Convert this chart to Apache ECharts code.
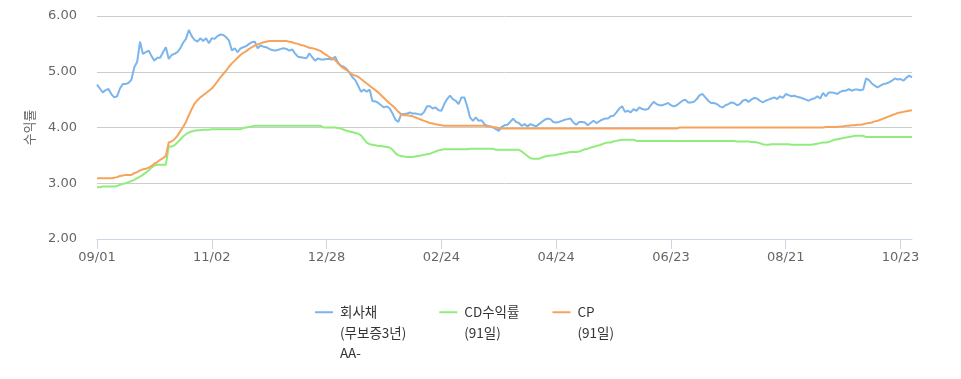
<!DOCTYPE html>
<html><head><meta charset="utf-8">
<script src="https://cdn.jsdelivr.net/npm/echarts@6/dist/echarts.min.js"></script>
<style>html,body{margin:0;padding:0;background:#fff}#c{width:961px;height:379px}</style>
</head><body><div id="c"></div>
<script>
// Trading days (year-month, day list)
const tradingMonths = [
 ['2022-09',[1,2,5,6,7,8,13,14,15,16,19,20,21,22,23,26,27,28,29,30]],
 ['2022-10',[4,5,6,7,11,12,13,14,17,18,19,20,21,24,25,26,27,28,31]],
 ['2022-11',[1,2,3,4,7,8,9,10,11,14,15,16,17,18,21,22,23,24,25,28,29,30]],
 ['2022-12',[1,2,5,6,7,8,9,12,13,14,15,16,19,20,21,22,23,26,27,28,29,30]],
 ['2023-01',[2,3,4,5,6,9,10,11,12,13,16,17,18,19,20,25,26,27,30,31]],
 ['2023-02',[1,2,3,6,7,8,9,10,13,14,15,16,17,20,21,22,23,24,27,28]],
 ['2023-03',[2,3,6,7,8,9,10,13,14,15,16,17,20,21,22,23,24,27,28,29,30,31]],
 ['2023-04',[3,4,5,6,7,10,11,12,13,14,17,18,19,20,21,24,25,26,27,28]],
 ['2023-05',[2,3,4,8,9,10,11,12,15,16,17,18,19,22,23,24,25,26,30,31]],
 ['2023-06',[1,2,5,7,8,9,12,13,14,15,16,19,20,21,22,23,26,27,28,29,30]],
 ['2023-07',[3,4,5,6,7,10,11,12,13,14,17,18,19,20,21,24,25,26,27,28,31]],
 ['2023-08',[1,2,3,4,7,8,9,10,11,14,16,17,18,21,22,23,24,25,28,29,30,31]],
 ['2023-09',[1,4,5,6,7,8,11,12,13,14,15,18,19,20,21,22,25,26,27]],
 ['2023-10',[4,5,6,10,11,12,13,16,17,18,19,20,23,24,25,26,27]]
];
const categories = [];
tradingMonths.forEach(([ym, days]) => days.forEach(d => categories.push(ym + '-' + String(d).padStart(2, '0'))));

const seriesNames = ['회사채\n(무보증3년)\nAA-', 'CD수익률\n(91일)', 'CP\n(91일)'];
const seriesColors = ['#7cb5ec', '#90ed7d', '#f7a35c'];

const corpBond = [
 4.77,4.70,4.63,4.67,4.69,4.60,4.54,4.56,4.70,4.78,4.78,4.80,4.86,5.08,5.18,5.54,5.32,5.35,5.38,5.28,5.20,5.25,5.25,5.35,5.44,5.23,5.30,5.32,5.35,5.42,5.52,5.59,5.75,5.64,5.57,5.54,5.60,
 5.55,5.60,5.51,5.60,5.59,5.64,5.67,5.66,5.62,5.56,5.38,5.42,5.35,5.42,5.44,5.46,5.50,5.53,5.54,5.42,5.47,5.45,5.44,5.41,5.39,5.38,5.39,5.41,5.42,5.41,5.38,5.40,5.33,5.27,5.26,
 5.25,5.24,5.33,5.26,5.20,5.24,5.22,5.22,5.23,5.23,5.22,5.27,5.16,5.11,5.09,5.05,4.98,4.90,4.85,4.75,4.64,4.68,4.64,4.68,4.47,4.47,4.44,4.40,4.36,4.38,4.34,4.25,4.14,4.10,4.24,4.24,
 4.25,4.27,4.25,4.25,4.24,4.23,4.28,4.38,4.38,4.34,4.36,4.31,4.30,4.42,4.51,4.57,4.51,4.48,4.42,4.54,4.54,4.38,4.18,4.12,4.18,4.12,4.13,4.06,4.03,4.02,4.00,3.97,3.94,4.01,4.04,
 4.05,4.10,4.16,4.10,4.08,4.03,4.06,4.02,4.06,4.04,4.02,4.06,4.10,4.14,4.16,4.15,4.10,4.09,4.10,4.12,4.14,4.15,4.16,4.09,4.05,4.10,4.10,4.09,4.04,4.08,4.12,4.08,4.11,4.14,4.16,4.16,
 4.20,4.21,4.27,4.34,4.38,4.28,4.30,4.27,4.33,4.30,4.36,4.33,4.32,4.33,4.40,4.46,4.42,4.40,4.40,4.42,4.44,4.40,4.38,4.40,4.44,4.48,4.50,4.45,4.45,4.46,4.51,4.58,4.60,4.54,4.48,
 4.44,4.44,4.42,4.38,4.36,4.40,4.42,4.45,4.44,4.40,4.42,4.48,4.50,4.46,4.50,4.53,4.52,4.48,4.45,4.48,4.50,4.52,4.54,4.51,4.56,4.53,4.60,4.58,4.56,4.57,4.55,4.54,4.52,4.50,4.48,4.51,
 4.52,4.56,4.52,4.62,4.56,4.63,4.63,4.62,4.60,4.64,4.66,4.66,4.69,4.66,4.68,4.68,4.67,4.68,4.88,4.85,4.79,4.75,4.72,4.75,4.78,4.79,4.81,4.84,4.88,4.86,4.87,4.84,4.89,4.93,4.90
];

const cdRate = [
 2.93,2.93,2.94,2.94,2.94,2.94,2.94,2.95,2.97,2.99,3.00,3.02,3.04,3.06,3.09,3.12,3.15,3.19,3.23,3.28,3.32,3.33,3.33,3.33,3.33,3.66,3.66,3.68,3.73,3.78,3.84,3.88,3.91,3.93,3.94,3.95,3.95,
 3.96,3.96,3.96,3.97,3.97,3.97,3.97,3.97,3.97,3.97,3.97,3.97,3.97,3.97,3.99,4.00,4.01,4.02,4.03,4.03,4.03,4.03,4.03,4.03,4.03,4.03,4.03,4.03,4.03,4.03,4.03,4.03,4.03,4.03,4.03,
 4.03,4.03,4.03,4.03,4.03,4.03,4.03,4.00,4.00,4.00,4.00,4.00,3.99,3.98,3.96,3.94,3.93,3.92,3.90,3.89,3.86,3.79,3.73,3.70,3.69,3.68,3.67,3.67,3.66,3.65,3.64,3.60,3.54,3.50,3.49,3.48,
 3.47,3.47,3.47,3.48,3.49,3.50,3.51,3.52,3.53,3.55,3.57,3.59,3.60,3.61,3.61,3.61,3.61,3.61,3.61,3.61,3.61,3.61,3.62,3.62,3.62,3.62,3.62,3.62,3.62,3.62,3.62,3.60,3.60,3.60,3.60,
 3.60,3.60,3.60,3.60,3.60,3.57,3.53,3.49,3.45,3.44,3.44,3.44,3.46,3.48,3.49,3.50,3.50,3.51,3.52,3.53,3.54,3.55,3.56,3.56,3.56,3.57,3.59,3.61,3.62,3.64,3.65,3.67,3.68,3.70,3.72,3.73,
 3.73,3.75,3.76,3.77,3.78,3.78,3.78,3.78,3.78,3.76,3.76,3.76,3.76,3.76,3.76,3.76,3.76,3.76,3.76,3.76,3.76,3.76,3.76,3.76,3.76,3.76,3.76,3.76,3.76,3.76,3.76,3.76,3.76,3.76,3.76,
 3.76,3.76,3.76,3.76,3.76,3.76,3.76,3.76,3.76,3.75,3.75,3.75,3.75,3.75,3.74,3.74,3.73,3.72,3.70,3.69,3.69,3.70,3.70,3.70,3.70,3.70,3.70,3.70,3.69,3.69,3.69,3.69,3.69,3.69,3.69,3.69,
 3.70,3.71,3.72,3.73,3.73,3.74,3.76,3.78,3.79,3.80,3.81,3.82,3.83,3.84,3.85,3.85,3.85,3.85,3.83,3.83,3.83,3.83,3.83,3.83,3.83,3.83,3.83,3.83,3.83,3.83,3.83,3.83,3.83,3.83,3.83
];

const cpRate = [
 3.09,3.09,3.09,3.09,3.09,3.09,3.10,3.11,3.13,3.14,3.15,3.15,3.15,3.18,3.20,3.23,3.25,3.26,3.28,3.31,3.35,3.38,3.42,3.45,3.49,3.73,3.75,3.79,3.85,3.93,4.01,4.10,4.22,4.33,4.43,4.49,4.54,
 4.58,4.62,4.66,4.70,4.76,4.83,4.90,4.96,5.02,5.09,5.15,5.20,5.25,5.30,5.34,5.37,5.41,5.44,5.47,5.49,5.51,5.53,5.54,5.55,5.55,5.55,5.55,5.55,5.55,5.55,5.54,5.53,5.51,5.50,5.48,
 5.47,5.45,5.43,5.42,5.41,5.39,5.37,5.33,5.30,5.26,5.24,5.21,5.15,5.10,5.06,5.03,4.99,4.95,4.93,4.91,4.87,4.83,4.79,4.75,4.71,4.67,4.63,4.58,4.53,4.48,4.43,4.39,4.34,4.28,4.24,4.22,
 4.22,4.21,4.20,4.18,4.16,4.14,4.12,4.10,4.08,4.07,4.06,4.05,4.04,4.03,4.03,4.03,4.03,4.03,4.03,4.03,4.03,4.03,4.03,4.03,4.03,4.03,4.03,4.03,4.02,4.02,4.01,4.00,3.99,3.98,3.98,
 3.98,3.98,3.98,3.98,3.98,3.98,3.98,3.98,3.98,3.98,3.98,3.98,3.98,3.98,3.98,3.98,3.98,3.98,3.98,3.98,3.98,3.98,3.98,3.98,3.98,3.98,3.98,3.98,3.98,3.98,3.98,3.98,3.98,3.98,3.98,3.98,
 3.98,3.98,3.98,3.98,3.98,3.98,3.98,3.98,3.98,3.98,3.98,3.98,3.98,3.98,3.98,3.98,3.98,3.98,3.98,3.98,3.98,3.98,3.98,3.98,4.00,4.00,4.00,4.00,4.00,4.00,4.00,4.00,4.00,4.00,4.00,
 4.00,4.00,4.00,4.00,4.00,4.00,4.00,4.00,4.00,4.00,4.00,4.00,4.00,4.00,4.00,4.00,4.00,4.00,4.00,4.00,4.00,4.00,4.00,4.00,4.00,4.00,4.00,4.00,4.00,4.00,4.00,4.00,4.00,4.00,4.00,4.00,
 4.00,4.00,4.00,4.00,4.01,4.01,4.01,4.01,4.01,4.02,4.02,4.03,4.03,4.04,4.04,4.05,4.05,4.06,4.07,4.08,4.09,4.11,4.12,4.14,4.16,4.18,4.20,4.22,4.24,4.26,4.27,4.28,4.29,4.30,4.31
];

const yTicks = { min: 2, max: 6, interval: 1 };
const labelFont = '"DejaVu Sans", "Noto Sans CJK KR", sans-serif';
const krFont = '"Noto Sans CJK KR", sans-serif';

const chart = echarts.init(document.getElementById('c'), null, { renderer: 'canvas' });
const values = [corpBond, cdRate, cpRate];
chart.setOption({
  animation: false,
  backgroundColor: '#ffffff',
  grid: { left: 97, right: 49, top: 16, bottom: 140, containLabel: false, outerBoundsMode: 'none' },
  legend: {
    left: 315, top: 261, padding: 0, itemGap: 33,
    icon: 'rect', itemWidth: 18, itemHeight: 2,
    data: seriesNames,
    formatter: name => '\n'.repeat(name.split('\n').length - 1) + name,
    textStyle: { fontFamily: krFont, fontSize: 13.5, lineHeight: 20.5, color: '#333333', padding: [0, 0, 0, 2] }
  },
  xAxis: {
    type: 'category', data: categories, boundaryGap: false,
    axisLine: { lineStyle: { color: '#ccd6eb', width: 1 } },
    axisTick: { show: true, interval: 39, length: 10, lineStyle: { color: '#ccd6eb' } },
    axisLabel: { interval: 39, color: '#666666', fontSize: 13, fontFamily: labelFont, margin: 12,
      formatter: v => v.slice(5).replace('-', '/') },
    splitLine: { show: false }
  },
  yAxis: {
    type: 'value', min: yTicks.min, max: yTicks.max, interval: yTicks.interval,
    name: '수익률', nameLocation: 'middle', nameGap: 61, nameRotate: 90,
    nameTextStyle: { color: '#666666', fontSize: 13, fontFamily: krFont },
    axisLine: { show: false }, axisTick: { show: false },
    axisLabel: { color: '#666666', fontSize: 13, fontFamily: labelFont, margin: 20,
      formatter: v => v.toFixed(2) },
    splitLine: { lineStyle: { color: '#cccccc', width: 1 } }
  },
  series: seriesNames.map((n, i) => ({
    name: n, type: 'line', data: values[i], showSymbol: false, symbol: 'none',
    color: seriesColors[i],
    lineStyle: { width: 2, color: seriesColors[i] },
    itemStyle: { color: seriesColors[i] },
    emphasis: { disabled: true }
  }))
});
</script></body></html>
